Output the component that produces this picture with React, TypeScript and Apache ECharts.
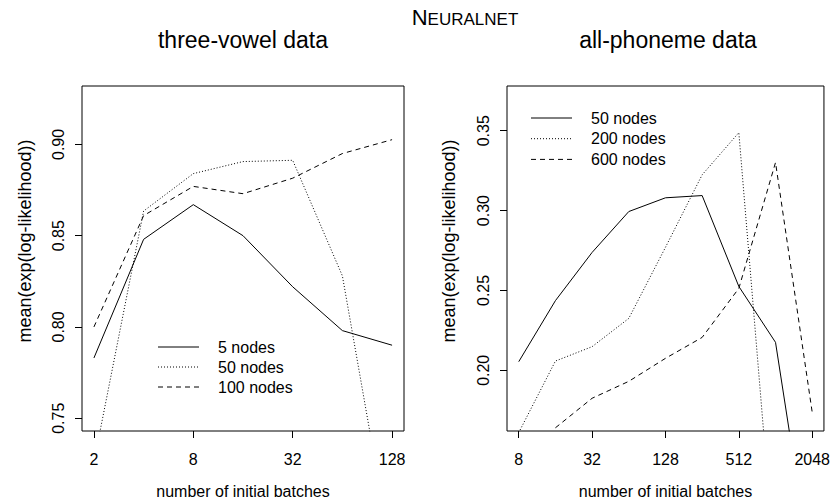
import React, { useEffect, useRef } from 'react';
import * as echarts from 'echarts';

// ---- data ----
const leftBatches = [2, 4, 8, 16, 32, 64, 128];
const left5 = [0.783, 0.848, 0.867, 0.85, 0.822, 0.798, 0.79];
const left50 = [0.726, 0.8635, 0.884, 0.8906, 0.8913, 0.828, 0.6735];
const left100 = [0.8, 0.861, 0.877, 0.873, 0.8815, 0.895, 0.9026];

const rightBatches = [8, 16, 32, 64, 128, 256, 512, 1024, 2048];
const right50 = [0.2054, 0.2436, 0.2738, 0.2994, 0.308, 0.3094, 0.2525, 0.2175, 0.0695];
const right200 = [0.161, 0.2058, 0.2148, 0.2325, 0.277, 0.3224, 0.3488, 0.0716, null];
const right600 = [null, 0.164, 0.1825, 0.1931, 0.2075, 0.2206, 0.2513, 0.3301, 0.1737];

const leftXTicks = [2, 8, 32, 128];
const rightXTicks = [8, 32, 128, 512, 2048];
const leftYTicks = [0.75, 0.8, 0.85, 0.9];
const rightYTicks = [0.2, 0.25, 0.3, 0.35];

const leftLegend = ['5 nodes', '50 nodes', '100 nodes'];
const rightLegend = ['50 nodes', '200 nodes', '600 nodes'];

const FONT = '"Liberation Sans", Arial, Helvetica, sans-serif';
const SOLID: any = 'solid';
const DOTTED: any = [1, 2];
const DASHED: any = [5, 4];

const toPts = (xs: number[], ys: (number | null)[]) =>
  xs.map((x, i) => [Math.log2(x), ys[i] == null ? null : ys[i]]);

export default function App() {
  const ref = useRef<HTMLDivElement>(null);
  useEffect(() => {
    if (!ref.current) return;
    const chart = echarts.init(ref.current, null, { renderer: 'svg' });

    const xAxisCommon = (ticks: number[], min: number, max: number, gi: number) => ({
      type: 'value',
      gridIndex: gi,
      min,
      max,
      name: 'number of initial batches',
      nameLocation: 'middle',
      nameGap: 52,
      nameTextStyle: { fontSize: 16, color: '#000', fontFamily: FONT },
      axisLine: { show: false },
      splitLine: { show: false },
      axisTick: {
        show: true,
        length: 7,
        customValues: ticks.map((t) => Math.log2(t)),
        lineStyle: { color: '#000', width: 1 },
      },
      axisLabel: {
        customValues: ticks.map((t) => Math.log2(t)),
        formatter: (v: number) => String(Math.round(Math.pow(2, v))),
        fontSize: 16,
        color: '#000',
        fontFamily: FONT,
        margin: 20,
      },
    });

    const yAxisCommon = (ticks: number[], min: number, max: number, gi: number) => ({
      type: 'value',
      gridIndex: gi,
      min,
      max,
      axisLine: { show: false },
      splitLine: { show: false },
      axisTick: {
        show: true,
        length: 7,
        customValues: ticks,
        lineStyle: { color: '#000', width: 1 },
      },
      axisLabel: {
        customValues: ticks,
        formatter: (v: number) => v.toFixed(2),
        rotate: 90,
        fontSize: 16,
        color: '#000',
        fontFamily: FONT,
        margin: 16,
      },
    });

    const lineSeries = (name: string, data: any[], type: any, gi: number) => ({
      type: 'line',
      name,
      xAxisIndex: gi,
      yAxisIndex: gi,
      data,
      showSymbol: false,
      symbol: 'none',
      clip: true,
      connectNulls: false,
      lineStyle: { color: '#000', width: 1, type },
      silent: true,
    });

    const legendGraphics = (
      labels: string[],
      types: any[],
      x1: number,
      x2: number,
      tx: number,
      y0: number,
      dy: number
    ) => {
      const els: any[] = [];
      labels.forEach((lab, i) => {
        const y = y0 + i * dy;
        els.push({
          type: 'line',
          shape: { x1, y1: y, x2, y2: y },
          style: { stroke: '#000', lineWidth: 1, lineDash: types[i] === 'solid' ? null : types[i] },
        });
        els.push({
          type: 'text',
          x: tx,
          y,
          style: {
            text: lab,
            fontSize: 16,
            fontFamily: FONT,
            fill: '#000',
            align: 'left',
            verticalAlign: 'middle',
          },
        });
      });
      return els;
    };

    const yTitle = (x: number) => ({
      type: 'text',
      x,
      y: 241,
      rotation: Math.PI / 2,
      style: {
        text: 'mean(exp(log-likelihood))',
        fontSize: 18,
        fontFamily: FONT,
        fill: '#000',
        align: 'center',
        verticalAlign: 'middle',
      },
    });

    const option: any = {
      animation: false,
      backgroundColor: '#fff',
      textStyle: { fontFamily: FONT, color: '#000' },
      grid: [
        { left: 82, top: 86, width: 322, height: 346, show: true, borderColor: '#000', borderWidth: 1, backgroundColor: 'transparent' },
        { left: 507, top: 86, width: 322, height: 346, show: true, borderColor: '#000', borderWidth: 1, backgroundColor: 'transparent' },
      ],
      xAxis: [
        xAxisCommon(leftXTicks, 1 - 0.24, 7 + 0.24, 0),
        xAxisCommon(rightXTicks, 3 - 0.32, 11 + 0.32, 1),
      ],
      yAxis: [
        yAxisCommon(leftYTicks, 0.743, 0.932, 0),
        yAxisCommon(rightYTicks, 0.162, 0.378, 1),
      ],
      series: [
        lineSeries('5 nodes', toPts(leftBatches, left5), SOLID, 0),
        lineSeries('50 nodes (3v)', toPts(leftBatches, left50), DOTTED, 0),
        lineSeries('100 nodes', toPts(leftBatches, left100), DASHED, 0),
        lineSeries('50 nodes', toPts(rightBatches, right50), SOLID, 1),
        lineSeries('200 nodes', toPts(rightBatches, right200), DOTTED, 1),
        lineSeries('600 nodes', toPts(rightBatches, right600), DASHED, 1),
      ],
      graphic: [
        {
          type: 'text',
          x: 465,
          y: 28,
          style: {
            text: '{a|N}{b|EURALNET}',
            fontFamily: FONT,
            fill: '#000',
            align: 'center',
            verticalAlign: 'bottom',
            rich: {
              a: { fontSize: 22, fontFamily: FONT, fill: '#000', verticalAlign: 'bottom', lineHeight: 22 },
              b: { fontSize: 17, fontFamily: FONT, fill: '#000', verticalAlign: 'bottom', lineHeight: 22 },
            },
          },
        },
        {
          type: 'text',
          x: 243,
          y: 40,
          style: { text: 'three-vowel data', fontSize: 23, fontFamily: FONT, fill: '#000', align: 'center', verticalAlign: 'middle' },
        },
        {
          type: 'text',
          x: 668,
          y: 40,
          style: { text: 'all-phoneme data', fontSize: 23, fontFamily: FONT, fill: '#000', align: 'center', verticalAlign: 'middle' },
        },
        yTitle(25),
        yTitle(449),
        ...legendGraphics(leftLegend, [SOLID, DOTTED, DASHED], 158, 199, 218, 347, 20),
        ...legendGraphics(rightLegend, [SOLID, DOTTED, DASHED], 531, 572, 591, 118, 20.7),
      ],
    };

    chart.setOption(option);
    return () => chart.dispose();
  }, []);

  return (
    <div
      ref={ref}
      style={{ position: 'absolute', left: 0, top: 0, width: 833, height: 504, background: '#fff' }}
    />
  );
}
